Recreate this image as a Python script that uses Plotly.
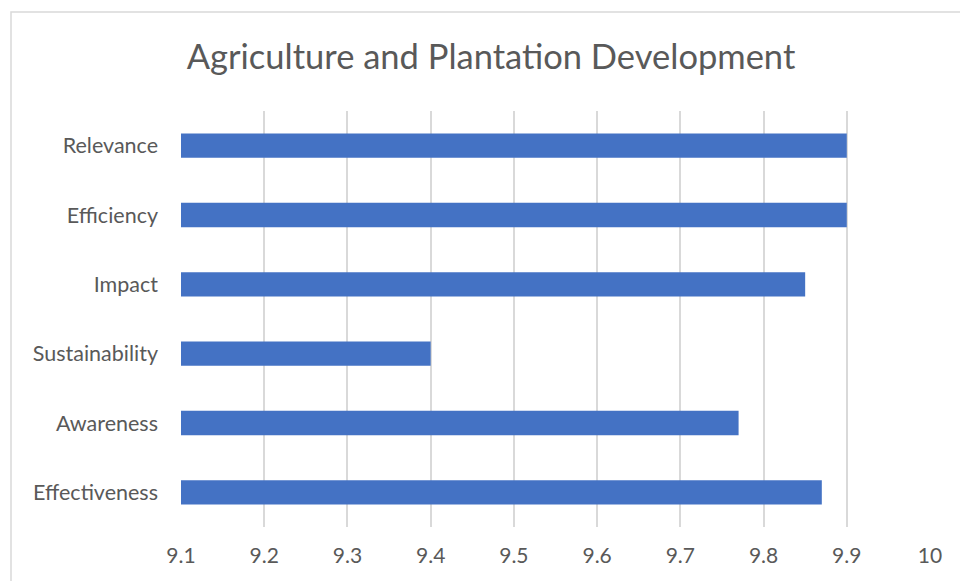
import plotly.graph_objects as go

categories = ["Relevance", "Efficiency", "Impact", "Sustainability", "Awareness", "Effectiveness"]
values = [9.9, 9.9, 9.85, 9.4, 9.77, 9.87]
x_ticks = [9.1, 9.2, 9.3, 9.4, 9.5, 9.6, 9.7, 9.8, 9.9, 10]
x_tick_labels = ["9.1", "9.2", "9.3", "9.4", "9.5", "9.6", "9.7", "9.8", "9.9", "10"]
base_value = 9.1

W, H = 960, 581
L, R, T, B = 181, 30, 111, 54
pw, ph = W - L - R, H - T - B

FONT = "Lato"
GRAY = "#595959"

fig = go.Figure(go.Bar(
    x=[v - base_value for v in values], y=categories, orientation="h",
    base=base_value,
    marker=dict(color="#4472C4", line=dict(width=0)),
))

fig.update_layout(
    width=W, height=H,
    margin=dict(l=L, r=R, t=T, b=B, pad=0),
    paper_bgcolor="white", plot_bgcolor="white",
    bargap=0.65,
    showlegend=False,
    title=dict(text="Agriculture and Plantation Development",
               x=491 / W, xanchor="center", xref="container",
               y=1 - 57 / H, yanchor="middle", yref="container",
               font=dict(family=FONT, size=34.5, color=GRAY)),
    xaxis=dict(range=[9.1, 10], tickvals=x_ticks, ticktext=x_tick_labels,
               showgrid=True, gridcolor="#d9d9d9", gridwidth=1.5,
               zeroline=False, showline=False, ticks="",
               ticklabelstandoff=14,
               tickfont=dict(family=FONT, size=21, color=GRAY)),
    yaxis=dict(categoryorder="array", categoryarray=categories,
               autorange="reversed", showgrid=False, zeroline=False,
               showline=False, ticks="", ticklabelstandoff=22,
               tickfont=dict(family=FONT, size=21.5, color=GRAY)),
)

# chart area border
fig.add_shape(type="rect", xref="paper", yref="paper",
              x0=(11 - L) / pw, x1=(975 - L) / pw,
              y0=(H - B - 600) / ph, y1=(H - B - 12) / ph,
              line=dict(color="#d9d9d9", width=1.5), fillcolor="rgba(0,0,0,0)",
              layer="below")

fig.write_html("out.html")
